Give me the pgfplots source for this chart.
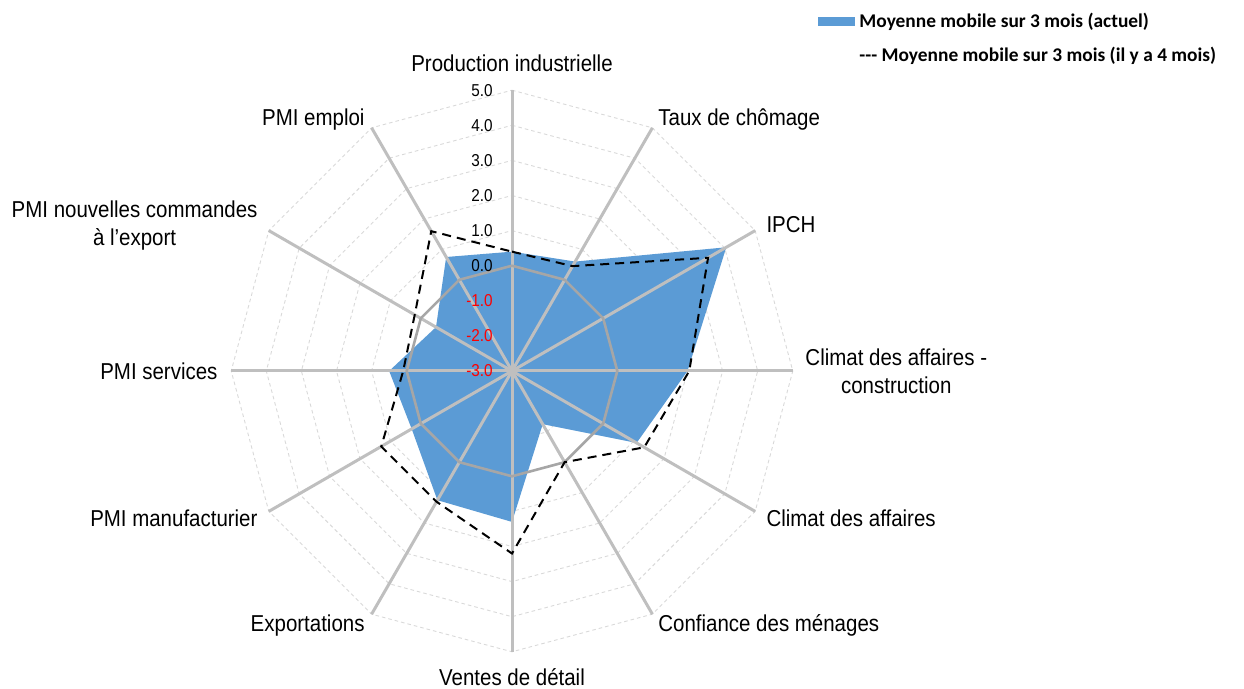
\documentclass[border=0pt]{standalone}
\usepackage{fontspec}
\setmainfont{Liberation Sans}[FakeStretch=0.89]
\newfontfamily\legfont{Carlito}
\usepackage{pgfplots}
\pgfplotsset{compat=1.18}
\usepackage{pgfplotstable}
\definecolor{serblue}{HTML}{5B9BD5}
\definecolor{spokecol}{HTML}{BFBFBF}
\definecolor{ringzero}{HTML}{A6A6A6}
\definecolor{ringcol}{HTML}{D9D9D9}

% angle (deg), current 3-month MA, 3-month MA 4 months ago
\pgfplotstableread{
a    cur    prev
90   0.40   0.40
60   0.60   0.45
30   4.05   3.45
0    2.00   2.05
-30  1.10   1.35
-60  -1.25  0.00
-90  1.30   2.20
-120 1.25   1.30
-150 0.30   1.30
-180 0.50   0.10
-210 -0.50  0.20
-240 0.75   1.60
-270 0.40   0.40
}\data

\pgfplotstableread{
a    b
90   0
60   0
30   0
0    0
-30  0
-60  0
-90  0
-120 0
-150 0
-180 0
-210 0
-240 0
-270 0
}\angles

\begin{document}
\begin{tikzpicture}
\begin{axis}[
  x=17.55pt, y=17.55pt,
  xmin=-14.587, xmax=20.855, ymin=-9.060, ymax=10.570,
  hide axis, clip=false,
  legend cell align=left,
  legend style={at={(axis cs:8.72,10.33)}, anchor=north west, draw=none, fill=none,
    inner sep=0pt, row sep=4.6pt,
    font=\legfont\bfseries\fontsize{9.7}{11}\selectfont},
  legend image code/.code={\fill[serblue] (0pt,-2.25pt) rectangle (18.5pt,2.25pt);},
]
% dashed grid rings
\pgfplotsinvokeforeach{1,2,3,4,5,6,7,8}{
  \addplot[forget plot, ringcol, line width=0.45pt, dash pattern=on 1.8pt off 1.5pt]
    table[x expr={#1*cos(\thisrow{a})}, y expr={#1*sin(\thisrow{a})}] {\angles};
}
% current series (filled)
\addplot[fill=serblue, draw=none]
  table[x expr={(\thisrow{cur}+3)*cos(\thisrow{a})}, y expr={(\thisrow{cur}+3)*sin(\thisrow{a})}] {\data};
\addlegendentry{Moyenne mobile sur 3 mois (actuel)}
\addlegendimage{legend image code/.code={}}
\addlegendentry{-{}-{}- Moyenne mobile sur 3 mois (il y a 4 mois)}
% spokes
\pgfplotsinvokeforeach{90,60,30,0,-30,-60,-90,-120,-150,-180,-210,-240}{
  \addplot[forget plot, spokecol, line width=1.5pt]
    coordinates {(0,0) ({8*cos(#1)},{8*sin(#1)})};
}
% zero ring
\addplot[forget plot, ringzero, line width=1.3pt]
  table[x expr={3*cos(\thisrow{a})}, y expr={3*sin(\thisrow{a})}] {\angles};
% previous series (dashed)
\addplot[forget plot, black, line width=1pt, dash pattern=on 4.5pt off 3pt]
  table[x expr={(\thisrow{prev}+3)*cos(\thisrow{a})}, y expr={(\thisrow{prev}+3)*sin(\thisrow{a})}] {\data};

% radial tick labels
\pgfplotsinvokeforeach{5,4,3,2,1,0}{
  \node[anchor=east, inner sep=0pt, font=\fontsize{8.6}{9}\selectfont] at (axis cs:-0.54,{#1+3}) {#1.0};
}
\pgfplotsinvokeforeach{1,2,3}{
  \node[anchor=east, inner sep=0pt, text=red, font=\fontsize{8.6}{9}\selectfont] at (axis cs:-0.54,{3-#1}) {-#1.0};
}

% category labels
\begin{scope}[every node/.style={inner sep=0pt, font=\fontsize{11.5}{14}\selectfont, align=center}]
\node[anchor=center] at (axis cs:0,8.775) {Production industrielle};
\node[anchor=west] at (axis cs:4.16,7.16) {Taux de chômage};
\node[anchor=west] at (axis cs:7.24,4.16) {IPCH};
\node[anchor=west] at (axis cs:8.35,0) {Climat des affaires -\\construction};
\node[anchor=west] at (axis cs:7.24,-4.19) {Climat des affaires};
\node[anchor=west] at (axis cs:4.16,-7.24) {Confiance des ménages};
\node[anchor=center] at (axis cs:0,-8.72) {Ventes de détail};
\node[anchor=east] at (axis cs:-4.19,-7.24) {Exportations};
\node[anchor=east] at (axis cs:-7.24,-4.19) {PMI manufacturier};
\node[anchor=east] at (axis cs:-8.38,0) {PMI services};
\node[anchor=east] at (axis cs:-7.24,4.13) {PMI nouvelles commandes\\à l’export};
\node[anchor=east] at (axis cs:-4.19,7.16) {PMI emploi};
\end{scope}
\path (axis cs:-14.587,-9.060) rectangle (axis cs:20.855,10.570);
\end{axis}
\end{tikzpicture}
\end{document}
